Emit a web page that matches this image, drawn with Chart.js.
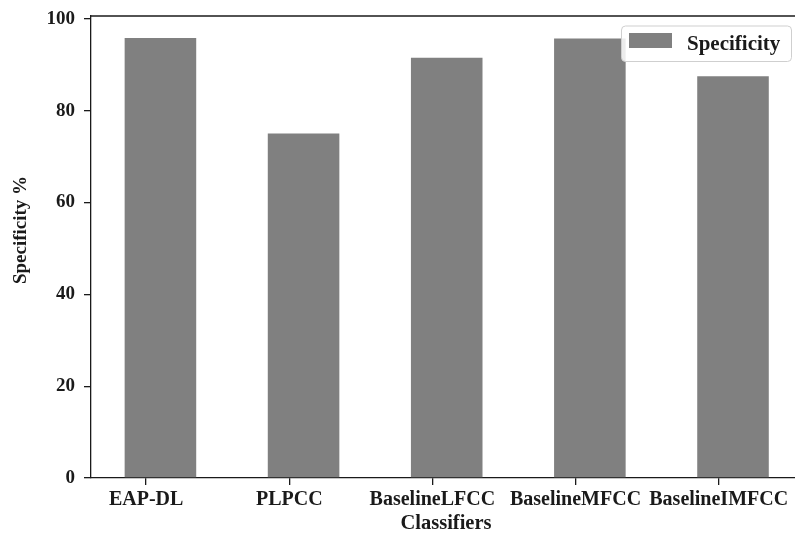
<!DOCTYPE html>
<html>
<head>
<meta charset="utf-8">
<script src="https://cdn.jsdelivr.net/npm/chart.js@4/dist/chart.umd.min.js"></script>
<style>
  html, body { margin: 0; padding: 0; background: #fff; }
  #wrap { width: 795px; height: 536px; overflow: hidden; }
  canvas { display: block; }
</style>
</head>
<body>
<div id="wrap"><canvas id="c" width="801" height="536"></canvas></div>
<script>
// Classifier names and their specificity scores (%)
const categories = ['EAP-DL', 'PLPCC', 'BaselineLFCC', 'BaselineMFCC', 'BaselineIMFCC'];
const specificity = [95.8, 75.0, 91.5, 95.7, 87.5];
const yTickValues = [0, 20, 40, 60, 80, 100];
const seriesLabel = 'Specificity';
const yTitle = 'Specificity %';

const FONT = "'Liberation Serif', 'Times New Roman', serif";
const INK = '#1a1a1a';
const barShift = 0.1;

// Top spine, y-axis title and an in-plot legend box
const framePlugin = {
  id: 'frame',
  afterDraw(chart) {
    const { ctx, chartArea } = chart;
    ctx.save();
    ctx.strokeStyle = INK;
    ctx.lineWidth = 1.3;
    ctx.beginPath();
    ctx.moveTo(chartArea.left, chartArea.top);
    ctx.lineTo(chartArea.right, chartArea.top);
    ctx.stroke();

    // y-axis title
    ctx.save();
    ctx.translate(21, 230);
    ctx.rotate(-Math.PI / 2);
    ctx.fillStyle = INK;
    ctx.font = "bold 19px " + FONT;
    ctx.textAlign = 'center';
    ctx.textBaseline = 'middle';
    ctx.fillText(yTitle, 0, 0);
    ctx.restore();

    // legend
    const ds = chart.data.datasets[0];
    const bx = 621.5, by = 26, bw = 170, bh = 35.5, r = 4;
    ctx.beginPath();
    ctx.moveTo(bx + r, by);
    ctx.arcTo(bx + bw, by, bx + bw, by + bh, r);
    ctx.arcTo(bx + bw, by + bh, bx, by + bh, r);
    ctx.arcTo(bx, by + bh, bx, by, r);
    ctx.arcTo(bx, by, bx + bw, by, r);
    ctx.closePath();
    ctx.fillStyle = 'rgba(255,255,255,0.85)';
    ctx.fill();
    ctx.strokeStyle = '#cfcfcf';
    ctx.lineWidth = 1;
    ctx.stroke();
    ctx.fillStyle = ds.backgroundColor;
    ctx.fillRect(629, 33, 43, 15);
    ctx.fillStyle = INK;
    ctx.font = "bold 21px " + FONT;
    ctx.textBaseline = 'alphabetic';
    ctx.textAlign = 'left';
    ctx.fillText(ds.label, 687, 50);
    ctx.restore();
  }
};

new Chart(document.getElementById('c'), {
  type: 'bar',
  data: {
    datasets: [{
      label: seriesLabel,
      data: specificity.map((v, i) => ({ x: i + barShift, y: v })),
      backgroundColor: '#808080',
      borderWidth: 0,
      barPercentage: 0.5,
      categoryPercentage: 1.0
    }]
  },
  options: {
    responsive: false,
    devicePixelRatio: 1,
    animation: false,
    layout: { padding: { top: 16, left: 0, right: 0, bottom: 0 } },
    plugins: { legend: { display: false }, tooltip: { enabled: false } },
    scales: {
      x: {
        type: 'linear',
        min: -0.385,
        max: 4.575,
        offset: false,
        afterBuildTicks(scale) { scale.ticks = categories.map((_, i) => ({ value: i })); },
        afterFit(scale) { scale.height = 58; scale.paddingLeft = 0; scale.paddingRight = 0; },
        ticks: {
          color: INK,
          font: { family: FONT, size: 20, weight: 'bold' },
          padding: 3,
          maxRotation: 0,
          autoSkip: false,
          callback: (v) => categories[v]
        },
        grid: { offset: false, drawOnChartArea: false, drawTicks: true, tickLength: 7, color: INK, lineWidth: 1.3 },
        border: { display: true, color: INK, width: 1.3 },
        title: {
          display: true,
          text: 'Classifiers',
          color: INK,
          font: { family: FONT, size: 20.5, weight: 'bold' },
          padding: { top: 0, bottom: 0 }
        }
      },
      y: {
        min: 0,
        max: 100.6,
        afterBuildTicks(scale) { scale.ticks = yTickValues.map(v => ({ value: v })); },
        afterFit(scale) { scale.width = 91; scale.paddingTop = 0; scale.paddingBottom = 0; },
        ticks: {
          color: INK,
          font: { family: FONT, size: 19, weight: 'bold' },
          padding: 9,
          callback: (v) => String(v)
        },
        grid: { drawOnChartArea: false, drawTicks: true, tickLength: 7, color: INK, lineWidth: 1.3 },
        border: { display: true, color: INK, width: 1.3 }
      }
    }
  },
  plugins: [framePlugin]
});
</script>
</body>
</html>
